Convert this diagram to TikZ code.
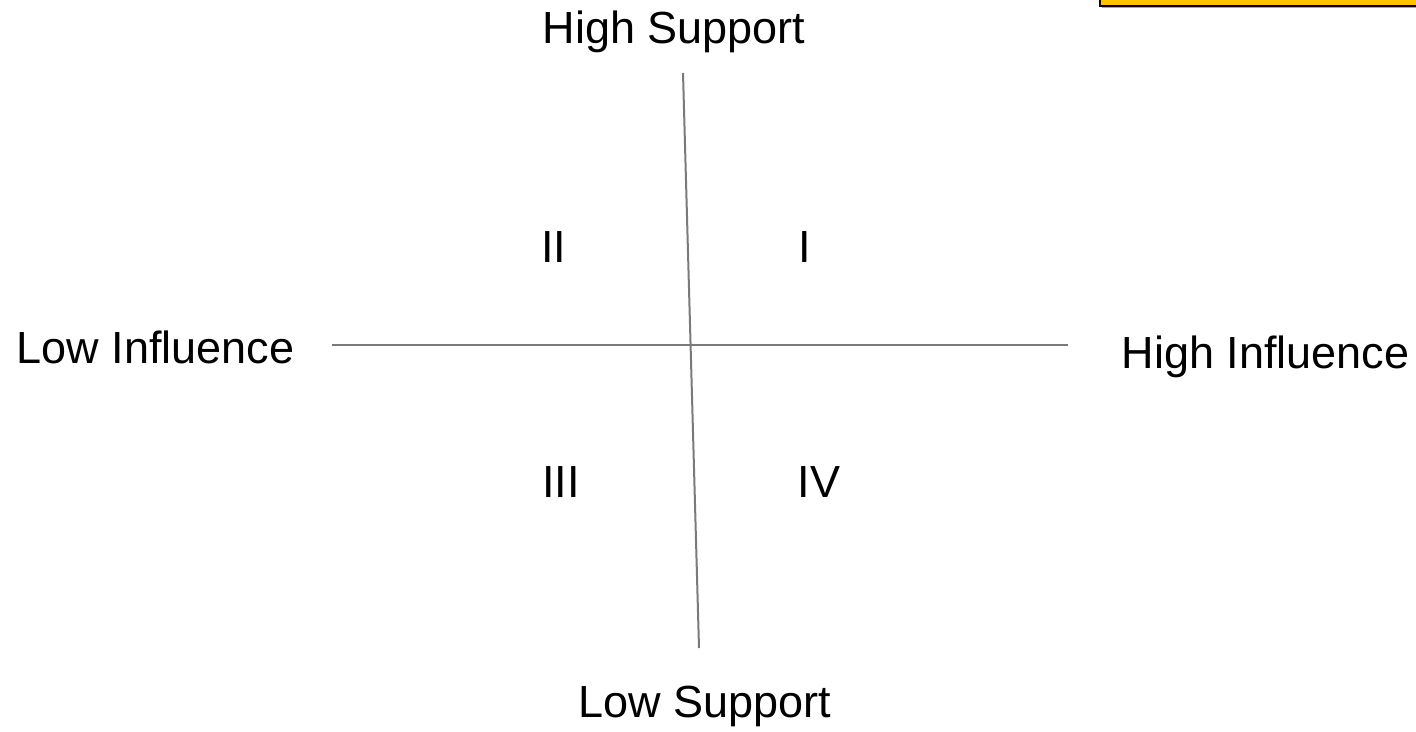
\documentclass[tikz,border=0pt]{standalone}
\usepackage{fontspec}
\setmainfont{Liberation Sans}
\definecolor{axisgray}{HTML}{7A7A7A}
\definecolor{boxyellow}{HTML}{FFC000}
\begin{document}
\begin{tikzpicture}[x=1pt,y=-1pt,
  lbl/.style={anchor=base,inner sep=0pt,font=\fontsize{45}{52}\selectfont},
  axis/.style={draw=axisgray,line width=2pt}]
\useasboundingbox (0,0) rectangle (1416,731);
\begin{scope}
\clip (0,0) rectangle (1416,731);
\fill[gray!70] (1102,-10) rectangle (1430,7.5);
\draw[fill=boxyellow,draw=black,line width=2pt] (1100,-10) rectangle (1430,5.5);
\end{scope}
\coordinate (vt) at (683,73);
\coordinate (vb) at (699,648);
\coordinate (hl) at (332,345);
\coordinate (hr) at (1068,345);
\draw[axis] (vt) -- (vb);
\draw[axis] (hl) -- (hr);
\node[lbl] (hs) at (674,43) {High Support};
\node[lbl] (ls) at (705,717) {Low Support};
\node[lbl] (li) at (155.5,363) {Low Influence};
\node[lbl] (hi) at (1265.5,368) {High Influence};
\node[lbl] (q2) at (553.5,262) {II};
\node[lbl] (q1) at (804.5,262) {I};
\node[lbl] (q3) at (561,497) {III};
\node[lbl] (q4) at (819,497) {IV};
\end{tikzpicture}
\end{document}
